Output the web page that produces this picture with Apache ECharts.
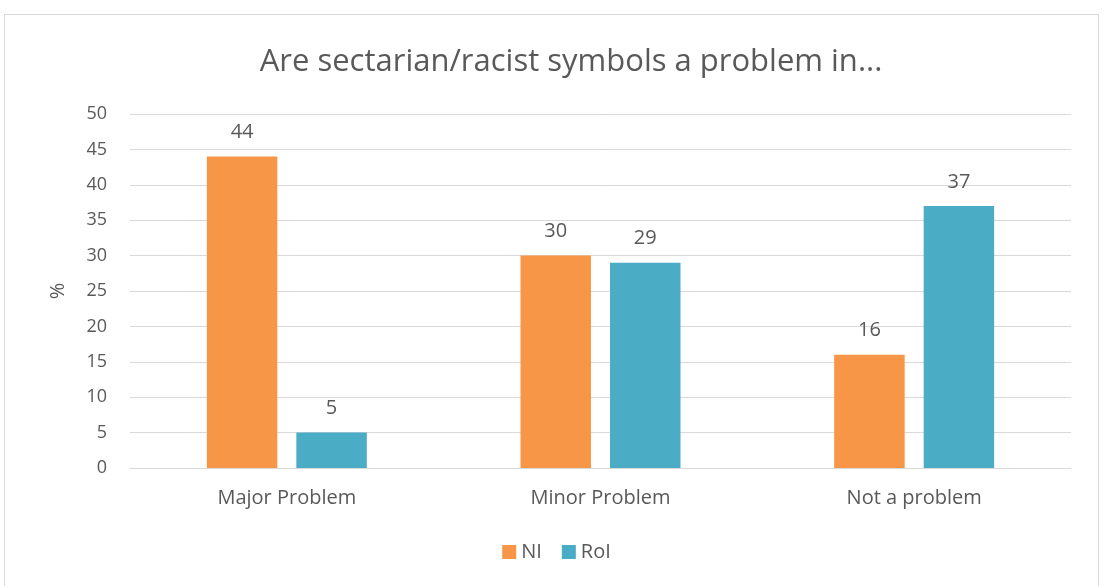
<!DOCTYPE html>
<html>
<head>
<meta charset="utf-8">
<script src="https://cdn.jsdelivr.net/npm/echarts@6/dist/echarts.min.js"></script>
<style>
  html, body { margin: 0; padding: 0; background: #ffffff; }
  #frame { position: absolute; left: 4px; top: 14px; width: 1095px; height: 580px; border: 1px solid #d9d9d9; box-sizing: border-box; }
  #chart { position: absolute; left: 0; top: 0; width: 1113px; height: 586px; }
</style>
</head>
<body>
<div id="frame"></div>
<div id="chart"></div>
<script>
  // Survey answers, percent of respondents
  const categories = ['Major Problem', 'Minor Problem', 'Not a problem'];
  const niValues = [44, 30, 16];
  const roiValues = [5, 29, 37];
  const yTicks = { min: 0, max: 50, interval: 5 };

  const FONT = '"Open Sans", "Noto Sans", sans-serif';
  const TEXT = '#595959';

  const chart = echarts.init(document.getElementById('chart'), null, { renderer: 'canvas' });
  const labelStyle = { show: true, position: 'top', distance: 14, color: TEXT, fontSize: 20, fontFamily: FONT };

  chart.setOption({
    animation: false,
    title: {
      text: 'Are sectarian/racist symbols a problem in...',
      left: 566, top: 42, textAlign: 'center',
      textStyle: { color: TEXT, fontSize: 31, fontWeight: 'normal', fontFamily: FONT }
    },
    legend: {
      top: 537, left: 'center',
      itemWidth: 14, itemHeight: 14, itemGap: 20,
      icon: 'rect',
      textStyle: { color: TEXT, fontSize: 20, fontFamily: FONT },
      data: ['NI', 'RoI']
    },
    grid: { left: 130, right: 42, top: 114, bottom: 118 },
    xAxis: {
      type: 'category',
      data: categories,
      axisLine: { lineStyle: { color: '#d9d9d9', width: 1 } },
      axisTick: { show: false },
      axisLabel: { color: TEXT, fontSize: 20, fontFamily: FONT, margin: 20 }
    },
    yAxis: {
      type: 'value',
      min: yTicks.min, max: yTicks.max, interval: yTicks.interval,
      name: '%', nameLocation: 'middle', nameGap: 62, nameRotate: 90,
      nameTextStyle: { color: TEXT, fontSize: 20, fontFamily: FONT },
      axisLine: { show: false },
      axisTick: { show: false },
      axisLabel: { color: TEXT, fontSize: 18, fontFamily: FONT, margin: 23 },
      splitLine: { lineStyle: { color: '#d9d9d9', width: 1 } }
    },
    series: [
      { name: 'NI', type: 'bar', data: niValues, barGap: '27%', barCategoryGap: '49%',
        itemStyle: { color: '#f79646' }, label: labelStyle },
      { name: 'RoI', type: 'bar', data: roiValues, barGap: '27%', barCategoryGap: '49%',
        itemStyle: { color: '#4bacc6' }, label: labelStyle }
    ]
  });
</script>
</body>
</html>
